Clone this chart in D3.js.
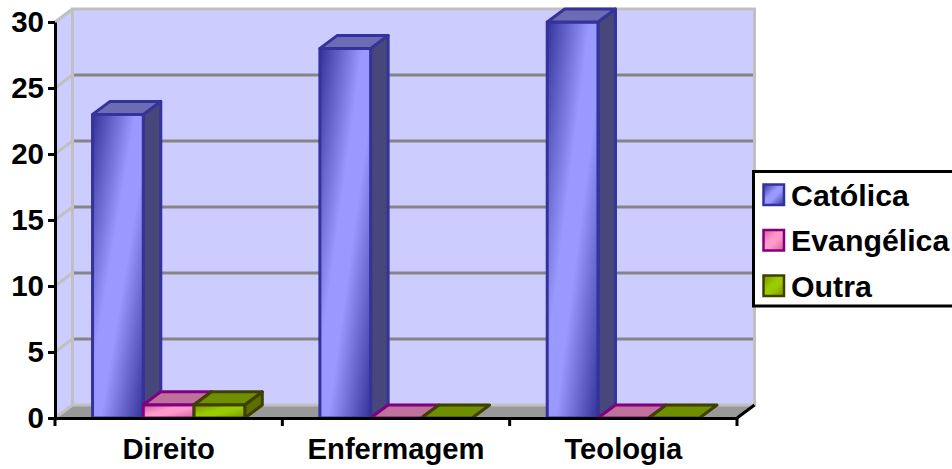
<!DOCTYPE html>
<html lang="en">
<head>
<meta charset="utf-8">
<title>Religião por curso</title>
<style type="text/css">
html, body { margin: 0; padding: 0; background: #fff; overflow: hidden; }
svg { display: block; }
text { font-family: "Liberation Sans", Arial, sans-serif; font-weight: bold; fill: #000; }
.axis text { font-size: 29.5px; }
.axis path, .axis line { stroke: #000; stroke-width: 3px; }
.wall-line { stroke: #c0c0c0; stroke-width: 3px; fill: none; }
.grid { stroke: #858585; stroke-width: 3px; }
.legendLabel { font-size: 30.3px; }
</style>
<script src="https://d3js.org/d3.v7.min.js"></script>
</head>
<body>
<div id="chart"></div>
<script>

var categories = ['Direito', 'Enfermagem', 'Teologia'];
var seriesNames = ['Católica', 'Evangélica', 'Outra'];
var catolica = [23, 28, 30];
var evangelica = [1, 0, 0];
var outra = [1, 0, 0];
var yTicks = [0, 5, 10, 15, 20, 25, 30];

var seriesValues = [catolica, evangelica, outra];

var width = 952, height = 469;
var left = 55, right = 737, bottom = 418, top3d = 22;
var depthX = 17.5, depthY = 13;

// line, dark, light, side, roof for each series
var colors = [
    { line: '#333399', dark: '#333399', light: '#9999ff', side: '#47477c', roof: '#6c6cb4' },
    { line: '#800080', dark: '#d0609a', light: '#ff99cc', side: '#803880', roof: '#c0709c' },
    { line: '#3f3f00', dark: '#7f8f00', light: '#99cc00', side: '#5c7000', roof: '#6f8f00' }
];

var svg = d3.select('#chart')
    .append('svg')
    .attr('width', width)
    .attr('height', height);

var xScale = d3.scaleBand().domain(categories).range([left, right]);
var inner = d3.scaleBand().domain(d3.range(seriesNames.length))
    .range([0, xScale.bandwidth()]).paddingOuter(0.74);
var yScale = d3.scaleLinear().domain([0, 30]).range([bottom, top3d]);

// the gradient runs corner to corner, so the light band crosses the bar diagonally
var defs = svg.append('defs');
colors.forEach(function(c, i) {
    var g = defs.append('linearGradient').attr('id', 'grad' + i)
        .attr('x1', 0).attr('y1', 0).attr('x2', 1).attr('y2', 1);
    g.append('stop').attr('offset', '0%').attr('stop-color', c.dark);
    g.append('stop').attr('offset', '42%').attr('stop-color', c.light);
    g.append('stop').attr('offset', '58%').attr('stop-color', c.light);
    g.append('stop').attr('offset', '100%').attr('stop-color', c.dark);
});

function pts(a) {
    return a.map(function(p) { return p.join(','); }).join(' ');
}

// walls and floor
svg.append('polygon')
    .attr('points', pts([[left + depthX, yScale(30) - depthY], [right + depthX, yScale(30) - depthY],
        [right + depthX, bottom - depthY], [left + depthX, bottom - depthY]]))
    .attr('fill', '#ccccff');
svg.append('polygon')
    .attr('points', pts([[left, yScale(30)], [left + depthX, yScale(30) - depthY],
        [left + depthX, bottom - depthY], [left, bottom]]))
    .attr('fill', '#ccccff');
svg.append('polygon')
    .attr('points', pts([[left, bottom], [left + depthX, bottom - depthY],
        [right + depthX, bottom - depthY], [right, bottom]]))
    .attr('fill', '#999999');

// gridlines
svg.selectAll('.grid')
    .data(yTicks.filter(function(d) { return d > 0 && d < 30; }))
    .enter()
    .append('line')
    .attr('class', 'grid')
    .attr('x1', left + depthX)
    .attr('x2', right + depthX)
    .attr('y1', function(d) { return yScale(d) - depthY; })
    .attr('y2', function(d) { return yScale(d) - depthY; });

svg.selectAll('.sideGrid')
    .data(yTicks)
    .enter()
    .append('line')
    .attr('class', 'wall-line')
    .attr('x1', left)
    .attr('x2', left + depthX)
    .attr('y1', function(d) { return yScale(d); })
    .attr('y2', function(d) { return yScale(d) - depthY; });

svg.append('polyline')
    .attr('class', 'wall-line')
    .attr('points', pts([[left + depthX, bottom - depthY], [left + depthX, yScale(30) - depthY],
        [right + depthX, yScale(30) - depthY], [right + depthX, bottom - depthY], [left + depthX, bottom - depthY]]));

// bars
categories.forEach(function(cat, c) {
    seriesValues.forEach(function(values, s) {
        var v = values[c];
        var x0 = xScale(cat) + inner(s), x1 = x0 + inner.bandwidth();
        var yTop = yScale(v);
        var col = colors[s];
        var g = svg.append('g').attr('class', 'bar')
            .attr('stroke', col.line).attr('stroke-width', 3).attr('stroke-linejoin', 'round');
        if (v > 0) {
            g.append('polygon')
                .attr('points', pts([[x1, yTop], [x1 + depthX, yTop - depthY], [x1 + depthX, bottom - depthY], [x1, bottom]]))
                .attr('fill', col.side);
            g.append('rect')
                .attr('x', x0).attr('y', yTop)
                .attr('width', x1 - x0).attr('height', bottom - yTop)
                .attr('fill', 'url(#grad' + s + ')');
        }
        g.append('polygon')
            .attr('points', pts([[x0, yTop], [x0 + depthX, yTop - depthY], [x1 + depthX, yTop - depthY], [x1, yTop]]))
            .attr('fill', col.roof);
    });
});

// axes
var yAxis = d3.axisLeft(yScale).tickValues(yTicks).tickSize(7).tickPadding(4).tickSizeOuter(0);
svg.append('g')
    .attr('class', 'axis')
    .attr('transform', 'translate(' + left + ',0)')
    .call(yAxis);

var xAxis = d3.axisBottom(xScale).tickSize(0).tickPadding(20);
var xAxisG = svg.append('g')
    .attr('class', 'axis')
    .attr('transform', 'translate(0,' + bottom + ')')
    .call(xAxis);
xAxisG.selectAll('text').style('font-size', '29.2px');

xAxisG.selectAll('.sep')
    .data(categories.concat(['end']))
    .enter()
    .append('line')
    .attr('x1', function(d, i) { return left + i * xScale.step(); })
    .attr('x2', function(d, i) { return left + i * xScale.step(); })
    .attr('y1', 0)
    .attr('y2', 8);

svg.append('line')
    .attr('x1', right).attr('y1', bottom)
    .attr('x2', right + depthX).attr('y2', bottom - depthY)
    .attr('stroke', '#000').attr('stroke-width', 3);

// legend
var legend = svg.append('g').attr('transform', 'translate(753.5,171.5)');
legend.append('rect')
    .attr('width', 210).attr('height', 134.5)
    .attr('fill', '#fff').attr('stroke', '#000').attr('stroke-width', 3);
var items = legend.selectAll('.item')
    .data(seriesNames)
    .enter()
    .append('g')
    .attr('class', 'item')
    .attr('transform', function(d, i) { return 'translate(0,' + (13 + i * 45.5) + ')'; });
items.append('rect')
    .attr('x', 10).attr('width', 20.5).attr('height', 20.5)
    .attr('fill', function(d, i) { return 'url(#grad' + i + ')'; })
    .attr('stroke', function(d, i) { return colors[i].line; })
    .attr('stroke-width', 2.5);
items.append('text')
    .attr('class', 'legendLabel')
    .attr('x', 37.5)
    .attr('y', 21)
    .text(function(d) { return d; });

</script>
</body>
</html>
